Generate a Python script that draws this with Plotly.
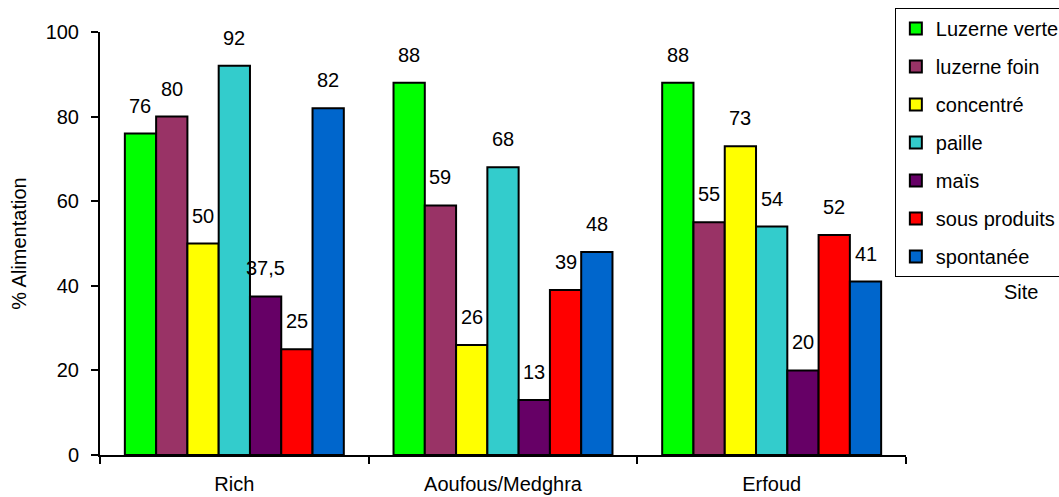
import plotly.graph_objects as go

# Sites and feed types
sites = ["Rich", "Aoufous/Medghra", "Erfoud"]
feeds = ["Luzerne verte", "luzerne foin", "concentré", "paille", "maïs",
         "sous produits", "spontanée"]

# Share of farms using each feed (%), one list per feed, ordered by site
luzerne_verte = [76, 88, 88]
luzerne_foin = [80, 59, 55]
concentre = [50, 26, 73]
paille = [92, 68, 54]
mais = [37.5, 13, 20]
sous_produits = [25, 39, 52]
spontanee = [82, 48, 41]

series = [luzerne_verte, luzerne_foin, concentre, paille, mais,
          sous_produits, spontanee]
colors = ["#00FF00", "#993366", "#FFFF00", "#33CCCC", "#660066",
          "#FF0000", "#0066CC"]

y_ticks = [0, 20, 40, 60, 80, 100]

FONT = "Liberation Sans, Arial, sans-serif"
BARGAP = 0.185

fig = go.Figure()
for name, vals, col in zip(feeds, series, colors):
    fig.add_trace(go.Bar(
        name=name, x=sites, y=vals, legendgroup=name,
        marker=dict(color=col, line=dict(color="black", width=2)),
    ))


def fmt(v):
    s = f"{v:g}"
    return s.replace(".", ",")


# value labels above each bar, placed at the grouped bar centres
n = len(series)
slot = (1 - BARGAP) / n
for i, vals in enumerate(series):
    for ci, v in enumerate(vals):
        fig.add_annotation(
            x=ci - (1 - BARGAP) / 2 + slot * (i + 0.5), y=v,
            xref="x", yref="y", text=fmt(v), showarrow=False,
            xanchor="center", yanchor="middle", yshift=28,
            font=dict(family=FONT, size=20, color="black"),
        )

fig.add_annotation(
    text="Site", xref="paper", yref="paper", x=1.143, y=0.385,
    xanchor="center", yanchor="middle",
    showarrow=False, font=dict(family=FONT, size=20, color="black"),
)

fig.update_layout(
    width=1059, height=497,
    margin=dict(l=100, r=153, t=32, b=42, autoexpand=False),
    paper_bgcolor="white", plot_bgcolor="white",
    barmode="group", bargap=BARGAP, bargroupgap=0,
    font=dict(family=FONT, size=20, color="black"),
    showlegend=True,
    legend=dict(
        xref="container", yref="paper", x=0.845, y=0.4208,
        xanchor="left", yanchor="bottom",
        bordercolor="black", borderwidth=1, bgcolor="white",
        font=dict(family=FONT, size=20, color="black"),
        tracegroupgap=9, traceorder="grouped",
    ),
    xaxis=dict(
        showline=True, linecolor="black", linewidth=2,
        ticks="outside", tickson="boundaries", ticklen=7, tickwidth=2,
        tickcolor="black", ticklabelstandoff=10,
        showgrid=False, zeroline=False,
        tickfont=dict(family=FONT, size=20),
    ),
    yaxis=dict(
        range=[0, 100], tickvals=y_ticks, ticktext=[str(t) for t in y_ticks],
        showline=True, linecolor="black", linewidth=2,
        ticks="outside", ticklen=7, tickwidth=2, tickcolor="black",
        ticklabelstandoff=8,
        showgrid=False, zeroline=False,
        tickfont=dict(family=FONT, size=20),
        title=dict(text="% Alimentation", standoff=14,
                   font=dict(family=FONT, size=20)),
    ),
)

fig.write_html("out.html")
